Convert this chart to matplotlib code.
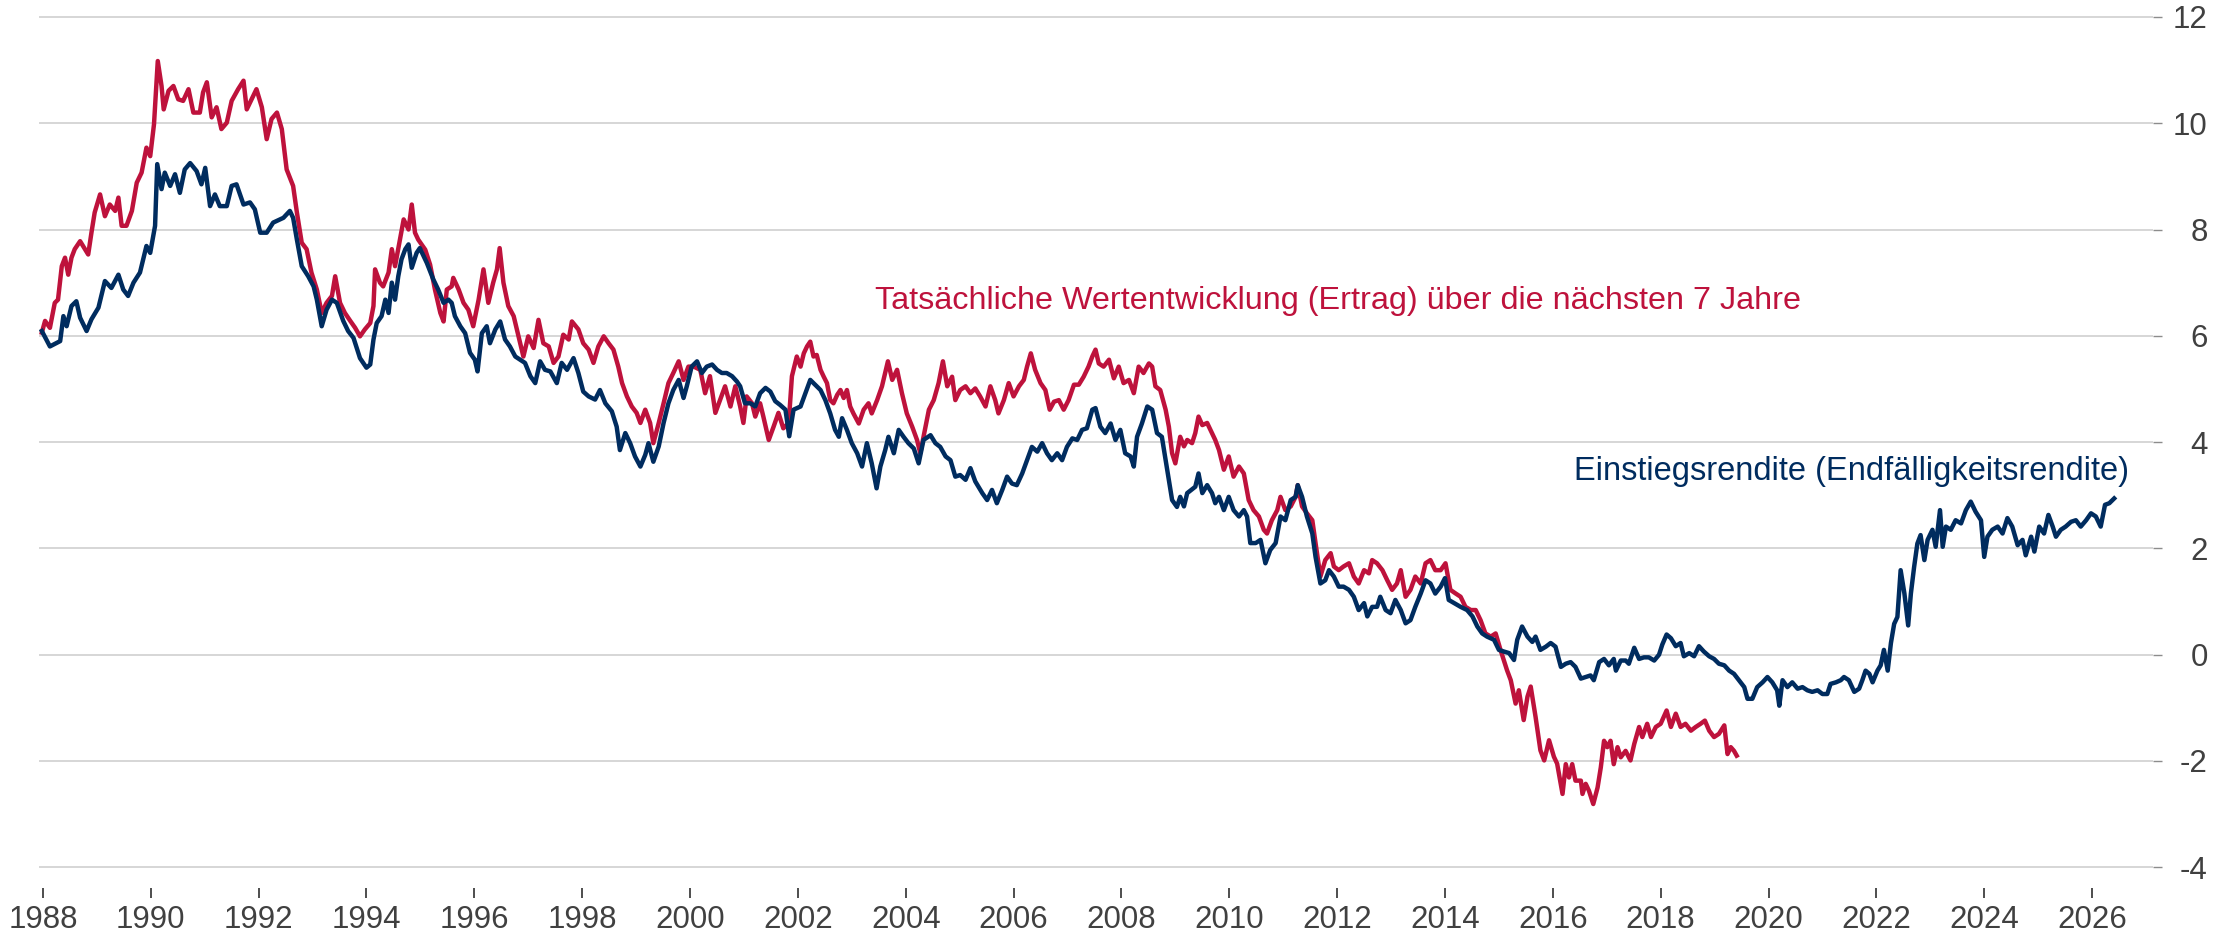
import matplotlib
matplotlib.use("Agg")
import matplotlib.pyplot as plt

plt.rcParams['font.family'] = ['Liberation Sans', 'DejaVu Sans']
plt.rcParams['axes.unicode_minus'] = False

BLUE = "#002C5F"
RED = "#BE123C"
GRID = "#d3d3d3"
TEXT = "#404040"

# Einstiegsrendite (Endfälligkeitsrendite), in %
blue_years = [
    1987.98, 1988.13, 1988.32, 1988.38, 1988.44, 1988.53, 1988.62, 1988.69, 1988.81, 1988.90,
    1989.03, 1989.15, 1989.27, 1989.40, 1989.49, 1989.58, 1989.68, 1989.80, 1989.92, 1989.99,
    1990.08, 1990.12, 1990.20, 1990.26, 1990.36, 1990.45, 1990.54, 1990.63, 1990.73, 1990.85,
    1990.94, 1991.01, 1991.10, 1991.19, 1991.28, 1991.41, 1991.50, 1991.59, 1991.72, 1991.84,
    1991.93, 1992.03, 1992.15, 1992.27, 1992.46, 1992.58, 1992.64, 1992.71, 1992.80, 1992.92,
    1993.02, 1993.08, 1993.17, 1993.26, 1993.36, 1993.45, 1993.57, 1993.66, 1993.76, 1993.88,
    1994.00, 1994.07, 1994.13, 1994.19, 1994.28, 1994.35, 1994.41, 1994.47, 1994.53, 1994.59,
    1994.65, 1994.72, 1994.78, 1994.84, 1994.93,
    1994.99, 1995.12, 1995.24, 1995.33, 1995.43, 1995.52, 1995.58, 1995.64, 1995.74, 1995.83,
    1995.92, 1996.01, 1996.06, 1996.14, 1996.23, 1996.29, 1996.39, 1996.48, 1996.57, 1996.66,
    1996.76, 1996.85, 1996.94, 1997.04, 1997.13, 1997.22, 1997.31, 1997.41, 1997.53, 1997.62,
    1997.72, 1997.84, 1997.93, 1998.02, 1998.12, 1998.24, 1998.33, 1998.43, 1998.55, 1998.64,
    1998.70, 1998.80, 1998.89, 1998.98, 1999.08, 1999.17, 1999.23, 1999.32, 1999.42, 1999.51,
    1999.60, 1999.69, 1999.79, 1999.88, 1999.94, 2000.03, 2000.13, 2000.22, 2000.31, 2000.41,
    2000.50, 2000.59, 2000.68, 2000.78, 2000.87, 2000.93, 2001.02, 2001.12, 2001.21, 2001.30,
    2001.40, 2001.49, 2001.58, 2001.67, 2001.77, 2001.84, 2001.92,
    2002.05, 2002.14, 2002.23, 2002.32, 2002.42, 2002.51, 2002.60, 2002.69, 2002.76, 2002.82,
    2002.91, 2003.00, 2003.10, 2003.19, 2003.28, 2003.37, 2003.46, 2003.53, 2003.62, 2003.68,
    2003.78, 2003.87, 2003.96, 2004.05, 2004.15, 2004.24, 2004.33, 2004.46, 2004.55, 2004.64,
    2004.74, 2004.83, 2004.92, 2005.01, 2005.11, 2005.20, 2005.29, 2005.42, 2005.51, 2005.60,
    2005.69, 2005.79, 2005.88, 2005.97, 2006.06, 2006.16, 2006.25, 2006.34, 2006.44, 2006.53,
    2006.62, 2006.71, 2006.81, 2006.90, 2006.99, 2007.09, 2007.18, 2007.27, 2007.36, 2007.46,
    2007.52, 2007.61, 2007.70, 2007.80, 2007.89, 2007.98, 2008.07, 2008.17, 2008.23, 2008.29,
    2008.38, 2008.48, 2008.57, 2008.66, 2008.75, 2008.82, 2008.88, 2008.94, 2009.03,
    2009.09, 2009.16, 2009.22, 2009.37, 2009.43, 2009.50, 2009.59, 2009.68, 2009.74, 2009.81,
    2009.90, 2009.99, 2010.08, 2010.18, 2010.27, 2010.33, 2010.39, 2010.49, 2010.58, 2010.67,
    2010.76, 2010.86, 2010.95, 2011.04, 2011.14, 2011.23, 2011.27, 2011.35, 2011.44, 2011.54,
    2011.60, 2011.69, 2011.78, 2011.85, 2011.94, 2012.03, 2012.12, 2012.22, 2012.31, 2012.40,
    2012.50, 2012.56, 2012.65, 2012.74, 2012.80, 2012.90, 2012.99, 2013.08, 2013.18, 2013.27,
    2013.36, 2013.45, 2013.55, 2013.64, 2013.73, 2013.82, 2013.92, 2014.00, 2014.07, 2014.17,
    2014.29, 2014.41, 2014.51, 2014.60, 2014.69, 2014.78, 2014.91, 2015.00, 2015.09, 2015.19,
    2015.28, 2015.34, 2015.43, 2015.53, 2015.62, 2015.68, 2015.77, 2015.87, 2015.96, 2016.05,
    2016.15, 2016.24, 2016.33, 2016.42, 2016.52, 2016.61, 2016.70, 2016.76, 2016.86, 2016.95,
    2017.04, 2017.13, 2017.17, 2017.26, 2017.35, 2017.41, 2017.51, 2017.60, 2017.69, 2017.78,
    2017.88, 2017.97, 2018.03, 2018.11, 2018.19, 2018.28, 2018.37, 2018.43, 2018.53, 2018.62,
    2018.71, 2018.80, 2018.90, 2018.99, 2019.08, 2019.18, 2019.27, 2019.36, 2019.45, 2019.55,
    2019.61, 2019.70, 2019.79, 2019.89, 2019.98, 2020.07, 2020.16, 2020.20, 2020.26, 2020.35,
    2020.44, 2020.54, 2020.63, 2020.72, 2020.81, 2020.91, 2021.00, 2021.09, 2021.15, 2021.25,
    2021.34, 2021.40, 2021.49, 2021.59, 2021.68, 2021.74, 2021.80, 2021.87, 2021.93, 2022.02,
    2022.08, 2022.14, 2022.21, 2022.27, 2022.33, 2022.39,
    2022.45, 2022.52, 2022.59, 2022.64, 2022.70, 2022.76, 2022.82, 2022.89, 2022.95, 2023.04,
    2023.10, 2023.18, 2023.23, 2023.29, 2023.38, 2023.47, 2023.57, 2023.66, 2023.75, 2023.84,
    2023.94, 2024.00, 2024.06, 2024.15, 2024.25, 2024.34, 2024.43, 2024.52, 2024.62, 2024.71,
    2024.77, 2024.87, 2024.93, 2025.02, 2025.11, 2025.19, 2025.27, 2025.33, 2025.42, 2025.51,
    2025.61, 2025.70, 2025.79, 2025.89, 2025.98, 2026.07, 2026.16, 2026.24, 2026.32, 2026.41,
]
blue_values = [
    6.09, 5.80, 5.90, 6.37, 6.18, 6.56, 6.65, 6.34, 6.09, 6.31,
    6.53, 7.03, 6.90, 7.15, 6.87, 6.75, 7.00, 7.19, 7.69, 7.56,
    8.07, 9.23, 8.76, 9.07, 8.82, 9.04, 8.69, 9.13, 9.25, 9.10,
    8.85, 9.16, 8.44, 8.66, 8.44, 8.44, 8.82, 8.85, 8.47, 8.51,
    8.38, 7.94, 7.94, 8.13, 8.22, 8.35, 8.22, 7.81, 7.31, 7.12,
    6.93, 6.68, 6.18, 6.49, 6.68, 6.62, 6.28, 6.09, 5.96, 5.58,
    5.40, 5.46, 5.93, 6.24, 6.37, 6.68, 6.43, 7.00, 6.68, 7.12,
    7.44, 7.63, 7.72, 7.28, 7.56,
    7.65, 7.37, 7.06, 6.87, 6.62, 6.68, 6.62, 6.37, 6.18, 6.05,
    5.68, 5.55, 5.33, 6.05, 6.18, 5.86, 6.12, 6.27, 5.93, 5.80,
    5.61, 5.55, 5.49, 5.24, 5.11, 5.52, 5.36, 5.33, 5.11, 5.49,
    5.36, 5.58, 5.30, 4.95, 4.86, 4.80, 4.98, 4.73, 4.58, 4.29,
    3.85, 4.17, 3.98, 3.73, 3.54, 3.76, 3.98, 3.63, 3.92, 4.36,
    4.73, 4.98, 5.17, 4.83, 5.05, 5.42, 5.52, 5.30, 5.42, 5.46,
    5.36, 5.30, 5.30, 5.24, 5.14, 5.05, 4.73, 4.73, 4.67, 4.92,
    5.02, 4.95, 4.77, 4.70, 4.61, 4.11, 4.61,
    4.67, 4.92, 5.17, 5.08, 4.98, 4.79, 4.54, 4.23, 4.10, 4.45,
    4.23, 3.98, 3.79, 3.54, 3.98, 3.60, 3.13, 3.54, 3.85, 4.10,
    3.79, 4.23, 4.10, 3.98, 3.88, 3.60, 4.04, 4.13, 3.98, 3.91,
    3.73, 3.66, 3.35, 3.38, 3.29, 3.51, 3.26, 3.04, 2.91, 3.10,
    2.85, 3.10, 3.35, 3.22, 3.19, 3.41, 3.66, 3.91, 3.82, 3.98,
    3.79, 3.66, 3.79, 3.66, 3.91, 4.07, 4.04, 4.23, 4.26, 4.61,
    4.64, 4.29, 4.17, 4.35, 4.04, 4.23, 3.79, 3.73, 3.54, 4.10,
    4.35, 4.67, 4.61, 4.17, 4.10, 3.66, 3.29, 2.91, 2.78,
    2.97, 2.79, 3.04, 3.16, 3.41, 3.04, 3.19, 3.04, 2.85, 2.97,
    2.72, 2.97, 2.72, 2.60, 2.72, 2.60, 2.10, 2.10, 2.16, 1.72,
    1.97, 2.10, 2.60, 2.53, 2.91, 2.97, 3.19, 2.97, 2.60, 2.28,
    1.84, 1.34, 1.40, 1.59, 1.47, 1.28, 1.28, 1.22, 1.09, 0.84,
    0.97, 0.72, 0.90, 0.90, 1.09, 0.84, 0.78, 1.03, 0.84, 0.59,
    0.65, 0.90, 1.15, 1.40, 1.34, 1.15, 1.28, 1.44, 1.03, 0.97,
    0.90, 0.84, 0.72, 0.53, 0.40, 0.34, 0.28, 0.09, 0.06, 0.03,
    -0.10, 0.28, 0.53, 0.34, 0.24, 0.34, 0.09, 0.15, 0.22, 0.15,
    -0.23, -0.17, -0.14, -0.23, -0.45, -0.42, -0.39, -0.48, -0.14, -0.08,
    -0.20, -0.08, -0.30, -0.11, -0.11, -0.17, 0.13, -0.08, -0.05, -0.05,
    -0.11, 0.00, 0.19, 0.38, 0.31, 0.16, 0.22, -0.03, 0.03, -0.03,
    0.16, 0.06, -0.03, -0.08, -0.17, -0.20, -0.30, -0.36, -0.48, -0.61,
    -0.83, -0.83, -0.61, -0.52, -0.42, -0.52, -0.67, -0.96, -0.48, -0.61,
    -0.52, -0.64, -0.61, -0.67, -0.70, -0.67, -0.74, -0.74, -0.55, -0.52,
    -0.48, -0.42, -0.48, -0.70, -0.64, -0.48, -0.30, -0.36, -0.52, -0.30,
    -0.20, 0.09, -0.30, 0.22, 0.58, 0.71,
    1.59, 1.15, 0.55, 1.15, 1.65, 2.09, 2.25, 1.78, 2.16, 2.35,
    2.03, 2.72, 2.03, 2.41, 2.35, 2.53, 2.47, 2.72, 2.88, 2.69,
    2.53, 1.84, 2.22, 2.35, 2.41, 2.28, 2.57, 2.41, 2.06, 2.16,
    1.87, 2.22, 1.94, 2.41, 2.28, 2.63, 2.41, 2.22, 2.35, 2.41,
    2.50, 2.53, 2.41, 2.53, 2.66, 2.60, 2.41, 2.82, 2.85, 2.94,
]

# Tatsächliche Wertentwicklung (Ertrag) über die nächsten 7 Jahre, in %
red_years = [
    1987.98, 1988.04, 1988.13, 1988.22, 1988.28, 1988.35, 1988.41, 1988.47, 1988.53, 1988.59,
    1988.69, 1988.78, 1988.84, 1988.90, 1988.96, 1989.06, 1989.15, 1989.24, 1989.34, 1989.40,
    1989.46, 1989.55, 1989.65, 1989.74, 1989.83, 1989.92, 1989.99, 1990.06, 1990.13, 1990.20,
    1990.24, 1990.33, 1990.42, 1990.51, 1990.60, 1990.70, 1990.79, 1990.91, 1990.97, 1991.04,
    1991.13, 1991.22, 1991.31, 1991.41, 1991.50, 1991.62, 1991.72, 1991.78, 1991.87, 1991.96,
    1992.06, 1992.15, 1992.24, 1992.34, 1992.43, 1992.52, 1992.64, 1992.71, 1992.80, 1992.89,
    1992.98, 1993.08, 1993.17, 1993.26, 1993.36, 1993.42, 1993.51, 1993.60, 1993.70, 1993.79,
    1993.88, 1993.97, 1994.07, 1994.13, 1994.16, 1994.25, 1994.31, 1994.41, 1994.47, 1994.53,
    1994.62, 1994.69, 1994.78, 1994.84, 1994.90, 1994.96,
    1995.09, 1995.18, 1995.27, 1995.37, 1995.43, 1995.49, 1995.58, 1995.61, 1995.71, 1995.80,
    1995.89, 1995.98, 1996.08, 1996.17, 1996.26, 1996.35, 1996.42, 1996.47, 1996.54, 1996.63,
    1996.73, 1996.82, 1996.91, 1997.00, 1997.10, 1997.19, 1997.28, 1997.38, 1997.47, 1997.56,
    1997.65, 1997.75, 1997.81, 1997.93, 1998.02, 1998.12, 1998.21, 1998.30, 1998.40, 1998.49,
    1998.58, 1998.67, 1998.74, 1998.83, 1998.92, 1999.01, 1999.08, 1999.17, 1999.26, 1999.32,
    1999.42, 1999.51, 1999.60, 1999.69, 1999.79, 1999.88, 1999.97, 2000.07, 2000.19, 2000.28,
    2000.37, 2000.47, 2000.56, 2000.65, 2000.75, 2000.84, 2000.93, 2000.99, 2001.05, 2001.15,
    2001.21, 2001.30, 2001.36, 2001.46, 2001.55, 2001.64, 2001.73, 2001.83, 2001.89, 2001.98,
    2002.05, 2002.11, 2002.17, 2002.23, 2002.29, 2002.35, 2002.42, 2002.48, 2002.54, 2002.60,
    2002.66, 2002.73, 2002.79, 2002.85, 2002.91, 2002.97, 2003.03, 2003.13, 2003.22, 2003.31,
    2003.37, 2003.47, 2003.56, 2003.67, 2003.75, 2003.84, 2003.93, 2004.02, 2004.12, 2004.21,
    2004.27, 2004.33, 2004.43, 2004.52, 2004.61, 2004.69, 2004.77, 2004.86, 2004.92, 2005.01,
    2005.11, 2005.20, 2005.29, 2005.38, 2005.48, 2005.57, 2005.66, 2005.72, 2005.82, 2005.91,
    2006.00, 2006.10, 2006.19, 2006.25, 2006.32, 2006.40, 2006.50, 2006.59, 2006.67, 2006.75,
    2006.84, 2006.93, 2007.02, 2007.12, 2007.21, 2007.30, 2007.39, 2007.46, 2007.52, 2007.58,
    2007.67, 2007.77, 2007.86, 2007.95, 2008.04, 2008.14, 2008.23, 2008.32, 2008.41, 2008.51,
    2008.57, 2008.63, 2008.72, 2008.82, 2008.88, 2008.94, 2009.00,
    2009.09, 2009.16, 2009.22, 2009.31, 2009.37, 2009.43, 2009.50, 2009.59, 2009.68, 2009.74,
    2009.81, 2009.90, 2009.99, 2010.08, 2010.18, 2010.27, 2010.36, 2010.45, 2010.55, 2010.64,
    2010.70, 2010.79, 2010.89, 2010.95, 2011.04, 2011.14, 2011.23, 2011.27, 2011.35, 2011.44,
    2011.54, 2011.60, 2011.69, 2011.78, 2011.88, 2011.94, 2012.03, 2012.12, 2012.22, 2012.31,
    2012.40, 2012.50, 2012.59, 2012.65, 2012.74, 2012.84, 2012.93, 2013.02, 2013.11, 2013.18,
    2013.27, 2013.36, 2013.45, 2013.55, 2013.64, 2013.73, 2013.82, 2013.92, 2014.01, 2014.10,
    2014.20, 2014.29, 2014.38, 2014.48, 2014.57, 2014.66, 2014.75, 2014.85, 2014.94, 2015.03,
    2015.09, 2015.15, 2015.22, 2015.31, 2015.37, 2015.46, 2015.53, 2015.59, 2015.68, 2015.77,
    2015.84, 2015.93, 2016.02, 2016.08,
    2016.18, 2016.24, 2016.30, 2016.36, 2016.42, 2016.52, 2016.55, 2016.61, 2016.67, 2016.75,
    2016.83, 2016.89, 2016.95, 2017.01, 2017.07, 2017.13, 2017.20, 2017.26, 2017.35, 2017.44,
    2017.51, 2017.60, 2017.66, 2017.75, 2017.82, 2017.91, 2018.00, 2018.11, 2018.19, 2018.28,
    2018.37, 2018.46, 2018.56, 2018.65, 2018.74, 2018.82, 2018.90, 2018.99, 2019.08, 2019.18,
    2019.24, 2019.30, 2019.36, 2019.41,
]
red_values = [
    6.06, 6.28, 6.15, 6.62, 6.68, 7.31, 7.47, 7.15, 7.47, 7.63,
    7.78, 7.63, 7.53, 7.94, 8.32, 8.66, 8.25, 8.47, 8.35, 8.60,
    8.07, 8.07, 8.35, 8.88, 9.07, 9.54, 9.38, 9.98, 11.17, 10.70,
    10.26, 10.61, 10.70, 10.45, 10.42, 10.64, 10.20, 10.20, 10.58, 10.77,
    10.11, 10.30, 9.89, 10.01, 10.42, 10.64, 10.80, 10.26, 10.45, 10.64,
    10.30, 9.70, 10.08, 10.20, 9.89, 9.13, 8.82, 8.32, 7.75, 7.63,
    7.19, 6.87, 6.43, 6.62, 6.75, 7.12, 6.62, 6.43, 6.28, 6.15,
    5.99, 6.12, 6.24, 6.56, 7.25, 7.00, 6.93, 7.19, 7.63, 7.31,
    7.81, 8.19, 8.00, 8.47, 7.94, 7.81,
    7.62, 7.34, 6.87, 6.43, 6.27, 6.87, 6.93, 7.09, 6.87, 6.62,
    6.49, 6.18, 6.68, 7.25, 6.62, 7.00, 7.25, 7.65, 7.00, 6.56,
    6.37, 5.99, 5.61, 5.99, 5.77, 6.30, 5.86, 5.80, 5.49, 5.61,
    6.02, 5.93, 6.27, 6.12, 5.86, 5.74, 5.49, 5.80, 5.99, 5.86,
    5.74, 5.42, 5.11, 4.86, 4.67, 4.55, 4.36, 4.61, 4.36, 3.98,
    4.36, 4.73, 5.11, 5.30, 5.52, 5.17, 5.42, 5.42, 5.36, 4.92,
    5.24, 4.55, 4.80, 5.05, 4.67, 5.05, 4.67, 4.36, 4.86, 4.73,
    4.48, 4.73, 4.48, 4.04, 4.29, 4.55, 4.26, 4.36, 5.24, 5.61,
    5.42, 5.67, 5.80, 5.89, 5.61, 5.64, 5.36, 5.23, 5.11, 4.79,
    4.73, 4.89, 4.98, 4.83, 4.98, 4.67, 4.54, 4.35, 4.61, 4.73,
    4.54, 4.79, 5.05, 5.52, 5.17, 5.36, 4.92, 4.54, 4.29, 4.04,
    3.79, 4.10, 4.61, 4.79, 5.11, 5.52, 5.05, 5.23, 4.79, 4.98,
    5.05, 4.92, 5.01, 4.86, 4.67, 5.05, 4.79, 4.54, 4.79, 5.11,
    4.86, 5.05, 5.17, 5.42, 5.67, 5.36, 5.11, 4.98, 4.61, 4.76,
    4.79, 4.61, 4.79, 5.08, 5.08, 5.23, 5.42, 5.61, 5.74, 5.48,
    5.42, 5.55, 5.20, 5.42, 5.11, 5.17, 4.92, 5.42, 5.30, 5.48,
    5.42, 5.05, 4.98, 4.61, 4.29, 3.79, 3.60,
    4.10, 3.92, 4.04, 3.98, 4.17, 4.48, 4.32, 4.36, 4.17, 4.04,
    3.85, 3.48, 3.73, 3.35, 3.54, 3.41, 2.91, 2.72, 2.60, 2.35,
    2.28, 2.53, 2.72, 2.97, 2.72, 2.79, 2.97, 3.19, 2.79, 2.66,
    2.53, 2.10, 1.47, 1.78, 1.91, 1.66, 1.59, 1.66, 1.72, 1.47,
    1.34, 1.59, 1.53, 1.78, 1.72, 1.59, 1.40, 1.22, 1.34, 1.59,
    1.09, 1.22, 1.47, 1.34, 1.72, 1.78, 1.59, 1.59, 1.72, 1.22,
    1.15, 1.09, 0.90, 0.84, 0.84, 0.65, 0.40, 0.34, 0.40, 0.09,
    -0.10, -0.29, -0.48, -0.92, -0.67, -1.23, -0.79, -0.60, -1.17, -1.80,
    -1.99, -1.61, -1.92, -2.05,
    -2.62, -2.06, -2.31, -2.06, -2.37, -2.37, -2.62, -2.43, -2.56, -2.81,
    -2.50, -2.12, -1.62, -1.74, -1.62, -2.06, -1.74, -1.93, -1.81, -1.99,
    -1.68, -1.36, -1.55, -1.30, -1.55, -1.36, -1.30, -1.05, -1.36, -1.11,
    -1.36, -1.30, -1.43, -1.36, -1.30, -1.24, -1.43, -1.55, -1.49, -1.33,
    -1.87, -1.74, -1.81, -1.90,
]

x_ticks = list(range(1988, 2027, 2))
y_ticks = list(range(-4, 13, 2))

red_label = "Tatsächliche Wertentwicklung (Ertrag) über die nächsten 7 Jahre"
blue_label = "Einstiegsrendite (Endfälligkeitsrendite)"


def main():
    fig = plt.figure(figsize=(22.13, 9.38), dpi=100)
    ax = fig.add_axes([0.01744, 0.0533, 0.95545, 0.9315])

    ax.plot(red_years, red_values, color=RED, lw=3.2, zorder=3)
    ax.plot(blue_years, blue_values, color=BLUE, lw=3.2, zorder=4)

    ax.text(2003.43, 6.66, red_label, color=RED, fontsize=23.3, ha="left", va="center")
    ax.text(2016.40, 3.44, blue_label, color=BLUE, fontsize=23.5, ha="left", va="center")

    ax.set_xlim(1987.92, 2027.13)
    ax.set_ylim(-4.39, 12.05)
    ax.set_xticks(x_ticks)
    ax.set_xticklabels([str(y) for y in x_ticks])
    ax.set_yticks(y_ticks)
    ax.set_yticklabels([str(v) for v in y_ticks])

    for s in ax.spines.values():
        s.set_visible(False)

    ax.yaxis.grid(True, color=GRID, lw=1.3)
    ax.set_axisbelow(True)

    ax.yaxis.tick_right()
    ax.tick_params(axis="y", length=6.5, width=1.0, color="#8c8c8c",
                   pad=33, labelsize=22.5, labelcolor=TEXT)
    for lbl in ax.get_yticklabels():
        lbl.set_ha("right")
    ax.tick_params(axis="x", length=7, width=1.3, color=TEXT,
                   pad=5, labelsize=22.5, labelcolor=TEXT)

    fig.savefig("out.png", dpi=100)
    plt.close(fig)


if __name__ == "__main__":
    main()
